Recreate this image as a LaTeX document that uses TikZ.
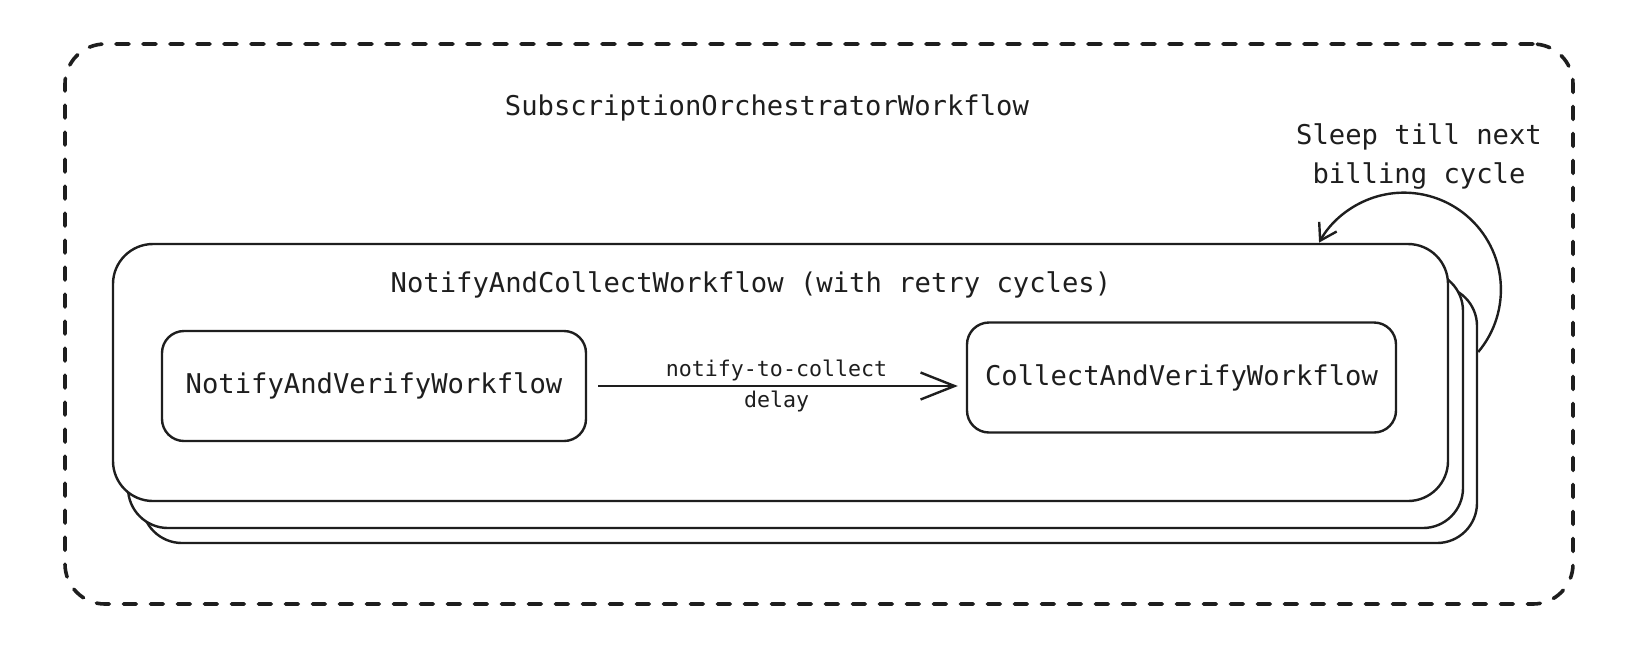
\documentclass[tikz,border=0pt]{standalone}
\usepackage{fontspec}
\setmonofont{DejaVu Sans Mono}
\usetikzlibrary{arrows.meta, positioning}
\definecolor{ink}{HTML}{1E1E1E}
\newcommand{\wffont}{\ttfamily\fontsize{13.6}{19.5}\selectfont}
\newcommand{\lblfont}{\ttfamily\fontsize{10.8}{13}\selectfont}
\tikzset{
  % contenitore tratteggiato
  outerbox/.style={draw=ink, line width=1.8pt, dash pattern=on 6.5pt off 7pt,
    line cap=round, rounded corners=20pt, minimum width=754pt, minimum height=280pt},
  % un livello della pila di workflow
  stackbox/.style={draw=ink, line width=1.2pt, fill=white, rounded corners=20pt,
    minimum width=667.5pt, minimum height=128.5pt},
  % workflow interno
  wfbox/.style={draw=ink, line width=1.2pt, fill=white, rounded corners=11pt,
    minimum height=55pt, align=center, font=\wffont, text=ink},
  % titoli e etichette
  wftitle/.style={font=\wffont, align=center, text=ink},
  lbl/.style={font=\lblfont, align=center, inner sep=2pt, text=ink},
  % frecce
  msg/.style={-{Straight Barb[length=17pt, width=13.5pt]}, line width=1.2pt, draw=ink},
  loopmsg/.style={-{Straight Barb[length=8pt, width=10pt]}, line width=1.2pt, draw=ink},
}

\begin{document}
\begin{tikzpicture}[x=0.5pt, y=-0.5pt]
  \useasboundingbox (0,0) rectangle (1648,650);
  \node[outerbox] (orch) at (819,324) {};
  \node[wftitle] (orchlbl) at (767,108) {SubscriptionOrchestratorWorkflow};
  % pila: dal fondo in avanti
  \node[stackbox] (nac3) at (809.5,414.5) {};
  \node[stackbox] (nac2) at (795.5,399.5) {};
  \node[stackbox] (nac) at (780.5,372.5) {};
  \node[wftitle] (naclbl) at (751,285) {NotifyAndCollectWorkflow (with retry cycles)};
  \node[wfbox, minimum width=212pt] (nvw) at (374,386) {NotifyAndVerifyWorkflow};
  \node[wfbox, minimum width=214.5pt] (cvw) at (1181.5,377.5) {CollectAndVerifyWorkflow};
  \draw[msg, shorten <=5.5pt, shorten >=4pt] (nvw.east) --
    node[lbl, above] {notify-to-collect} node[lbl, below] {delay} (nvw.east -| cvw.west);
  % ciclo di fatturazione
  \coordinate (loopstart) at (nac3.east |- 0,352);
  \draw[loopmsg] (loopstart) arc[start angle=40, end angle=-151, radius=97];
  \node[wftitle] (sleeplbl) at (1419,157) {Sleep till next\\billing cycle};
\end{tikzpicture}
\end{document}
